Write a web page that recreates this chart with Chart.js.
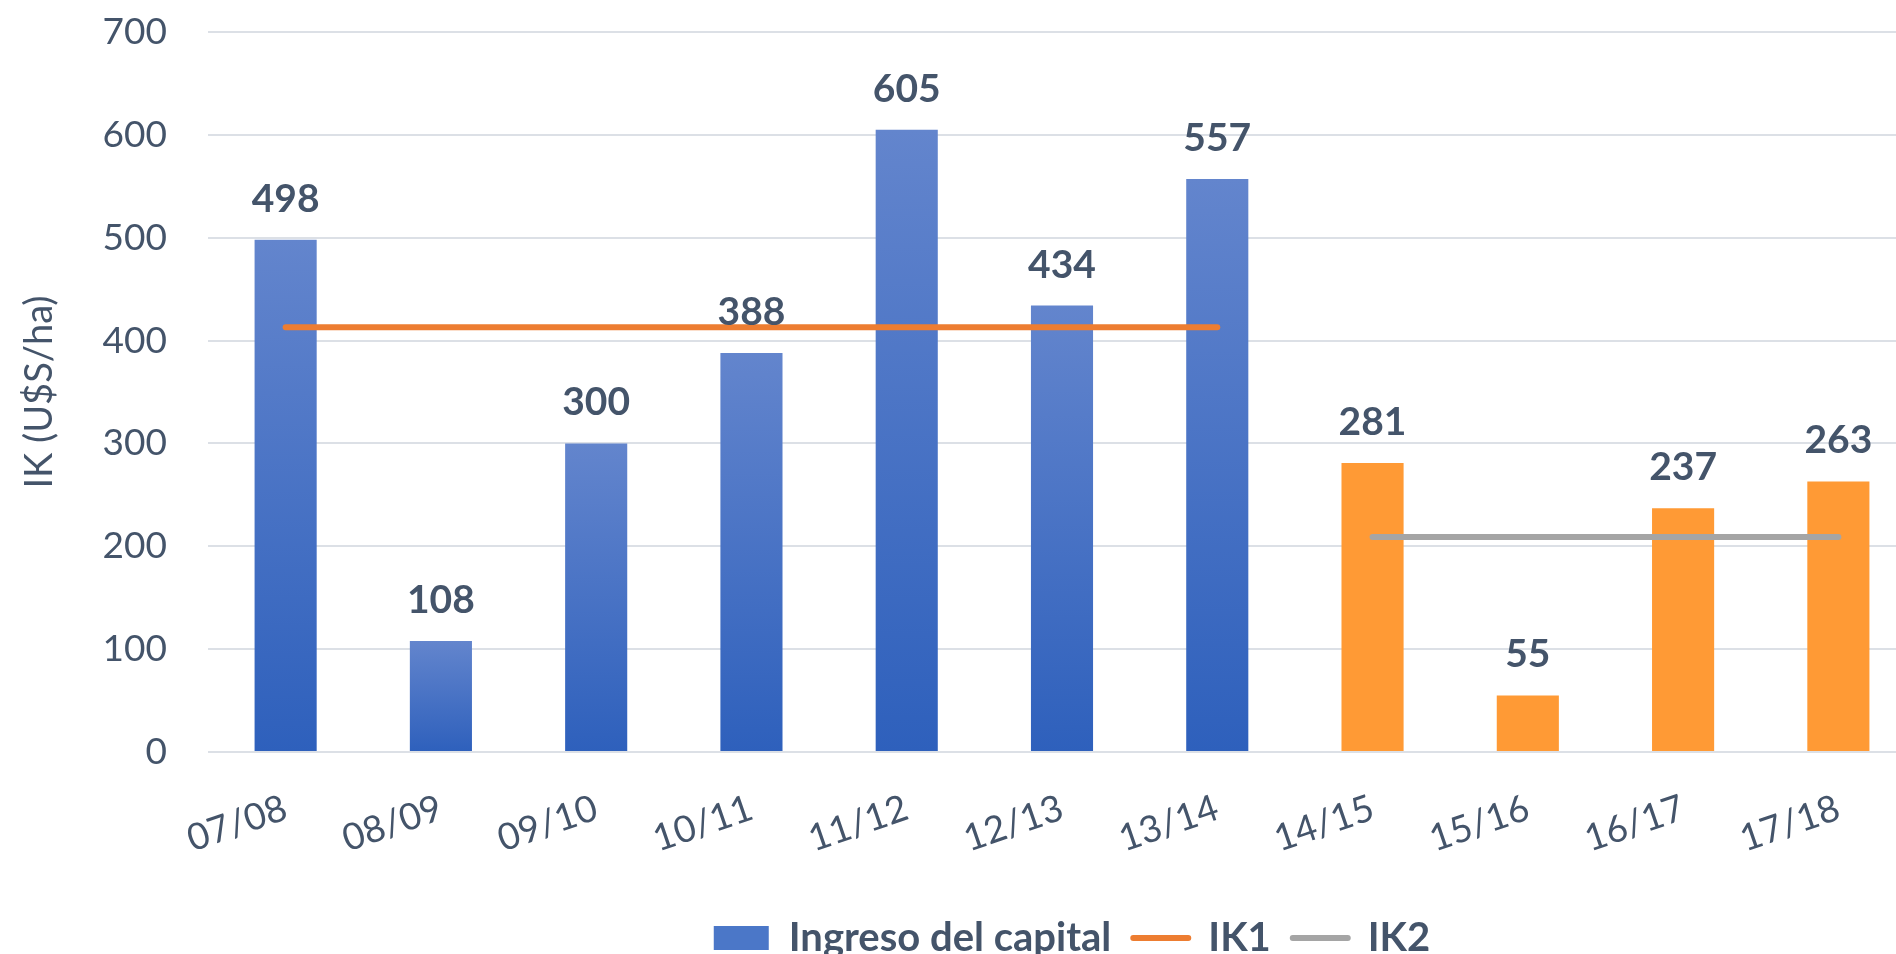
<!DOCTYPE html>
<html>
<head>
<meta charset="utf-8">
<script src="https://cdn.jsdelivr.net/npm/chart.js@4/dist/chart.umd.min.js"></script>
<style>
  html, body { margin: 0; padding: 0; width: 1896px; height: 954px; overflow: hidden; background: #fff; }
  #wrap { position: absolute; left: 0; top: 0; width: 2144px; height: 968px; }
</style>
</head>
<body>
<div id="wrap"><canvas id="chart"></canvas></div>
<script>
const seasons = ['07/08', '08/09', '09/10', '10/11', '11/12', '12/13', '13/14', '14/15', '15/16', '16/17', '17/18'];
const ikValues = [498, 108, 300, 388, 605, 434, 557, 281, 55, 237, 263];
const periodGroup = ['IK1', 'IK1', 'IK1', 'IK1', 'IK1', 'IK1', 'IK1', 'IK2', 'IK2', 'IK2', 'IK2'];
const ik1Values = [413, 413, 413, 413, 413, 413, 413, null, null, null, null];
const ik2Values = [null, null, null, null, null, null, null, 209, 209, 209, 209];
const yTicks = [0, 100, 200, 300, 400, 500, 600, 700];

const textColour = '#44546A';
const fontFamily = 'Lato, "Open Sans", sans-serif';

// bars get a vertical gradient, lighter at the top (like the office theme)
function barFill(c) {
  const i = c.dataIndex;
  if (periodGroup[i] === 'IK2') return '#FF9A35';
  const { ctx, chartArea, scales } = c.chart;
  if (!chartArea) return '#4A74C6';
  const top = scales.y.getPixelForValue(c.raw);
  const base = scales.y.getPixelForValue(0);
  const g = ctx.createLinearGradient(0, top, 0, base);
  g.addColorStop(0, '#6385CD');
  g.addColorStop(1, '#2E60BC');
  return g;
}

const valueLabels = {
  id: 'valueLabels',
  afterDatasetsDraw(chart) {
    const meta = chart.getDatasetMeta(0);
    const ctx = chart.ctx;
    ctx.save();
    ctx.font = 'bold 39px ' + fontFamily;
    ctx.fillStyle = textColour;
    ctx.textAlign = 'center';
    ctx.textBaseline = 'alphabetic';
    meta.data.forEach((bar, i) => {
      ctx.fillText(ikValues[i], bar.x, bar.y - 28);
    });
    ctx.restore();
  }
};

new Chart(document.getElementById('chart'), {
  data: {
    labels: seasons,
    datasets: [
      {
        type: 'bar',
        label: 'Ingreso del capital',
        data: ikValues,
        backgroundColor: barFill,
        barPercentage: 0.8,
        categoryPercentage: 0.5,
        order: 2
      },
      {
        type: 'line',
        label: 'IK1',
        data: ik1Values,
        borderColor: '#ED7D31',
        borderWidth: 6,
        borderCapStyle: 'round',
        pointRadius: 0,
        spanGaps: false,
        order: 1
      },
      {
        type: 'line',
        label: 'IK2',
        data: ik2Values,
        borderColor: '#A5A5A5',
        borderWidth: 6,
        borderCapStyle: 'round',
        pointRadius: 0,
        spanGaps: false,
        order: 1
      }
    ]
  },
  options: {
    responsive: true,
    maintainAspectRatio: false,
    animation: false,
    layout: { padding: { top: 32, left: 0, right: 0, bottom: 0 } },
    plugins: {
      tooltip: { enabled: false },
      title: { display: false },
      legend: {
        position: 'bottom',
        labels: {
          usePointStyle: true,
          pointStyleWidth: 55,
          boxHeight: 24,
          padding: 22,
          color: textColour,
          font: { family: fontFamily, size: 40, weight: 'bold' },
          generateLabels(chart) {
            return [
              { text: 'Ingreso del capital', fillStyle: '#4B77C8', strokeStyle: 'rgba(0,0,0,0)', lineWidth: 0, pointStyle: 'rect', datasetIndex: 0, fontColor: textColour },
              { text: 'IK1', fillStyle: '#ED7D31', strokeStyle: '#ED7D31', lineWidth: 6, lineCap: 'round', pointStyle: 'line', datasetIndex: 1, fontColor: textColour },
              { text: 'IK2', fillStyle: '#A5A5A5', strokeStyle: '#A5A5A5', lineWidth: 6, lineCap: 'round', pointStyle: 'line', datasetIndex: 2, fontColor: textColour }
            ];
          }
        }
      }
    },
    scales: {
      x: {
        grid: { display: false },
        border: { display: false },
        ticks: {
          color: textColour,
          font: { family: fontFamily, size: 37 },
          minRotation: 19,
          maxRotation: 19,
          padding: 26
        },
        afterFit(scale) { scale.height = 144; }
      },
      y: {
        min: 0,
        max: 700,
        afterBuildTicks(scale) { scale.ticks = yTicks.map(v => ({ value: v })); },
        grid: { color: '#DCE0E6', lineWidth: 2, drawTicks: true, tickLength: 41, tickColor: 'rgba(0,0,0,0)' },
        border: { display: false },
        ticks: {
          color: textColour,
          font: { family: fontFamily, size: 37 },
          padding: 0
        },
        title: {
          display: true,
          text: 'IK (U$S/ha)',
          color: textColour,
          font: { family: fontFamily, size: 38 },
          padding: { top: 17, bottom: 0 }
        },
        afterFit(scale) { scale.width = 208; }
      },
      yRight: {
        position: 'right',
        display: true,
        grid: { display: false },
        border: { display: false },
        ticks: { display: false },
        afterFit(scale) { scale.width = 228; }
      }
    }
  },
  plugins: [valueLabels]
});
</script>
</body>
</html>
